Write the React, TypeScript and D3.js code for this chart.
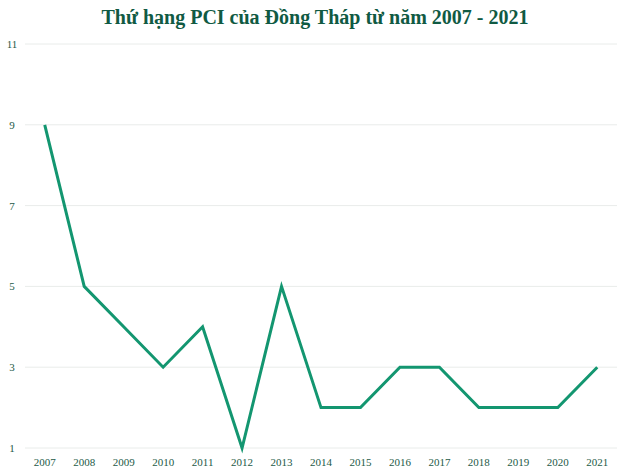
import React from "react";
import * as d3 from "d3";

const years = ["2007","2008","2009","2010","2011","2012","2013","2014","2015","2016","2017","2018","2019","2020","2021"];
const ranks = [9,5,4,3,4,1,5,2,2,3,3,2,2,2,3];
const yTicks = [1,3,5,7,9,11];
const title = "Thứ hạng PCI của Đồng Tháp từ năm 2007 - 2021";

const W = 630, H = 474;

export default function App() {
  const x = d3.scaleBand<string>().domain(years).range([25, 617]);
  const y = d3.scaleLinear().domain([1, 11]).range([448, 44]);
  const line = d3.line<number>()
    .x((_, i) => (x(years[i]) as number) + x.bandwidth() / 2)
    .y((d) => y(d));
  const textColor = "#1d5a47";
  return (
    <svg width={W} height={H} style={{ position: "absolute", left: 0, top: 0, background: "#fff" }}>
      <text x={315} y={24} textAnchor="middle" fontFamily="Liberation Serif" fontWeight="bold" fontSize={20} fill="#105a43">{title}</text>
      {yTicks.map((t) => (
        <g key={t}>
          <line x1={25} x2={617} y1={y(t)} y2={y(t)} stroke="#e9ecea" strokeWidth={1} />
          <text x={12} y={y(t) + 4} textAnchor="middle" fontFamily="Liberation Serif" fontSize={11} fill={textColor}>{t}</text>
        </g>
      ))}
      {years.map((yr) => (
        <text key={yr} x={(x(yr) as number) + x.bandwidth() / 2} y={466} textAnchor="middle" fontFamily="Liberation Serif" fontSize={11} fill={textColor}>{yr}</text>
      ))}
      <path d={line(ranks) || ""} fill="none" stroke="#139670" strokeWidth={3} strokeLinejoin="miter" />
    </svg>
  );
}
